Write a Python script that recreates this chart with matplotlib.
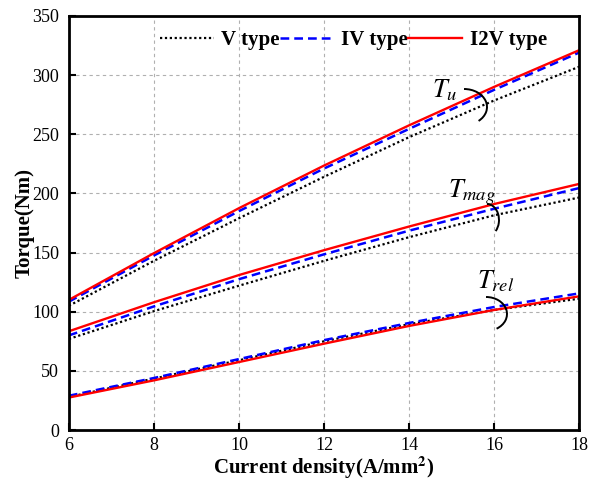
import numpy as np
import matplotlib
matplotlib.use("Agg")
import matplotlib.pyplot as plt
from matplotlib.patches import Arc

plt.rcParams['font.family'] = ['Liberation Serif', 'DejaVu Serif']
plt.rcParams['mathtext.fontset'] = 'stix'

# current density (A/mm^2)
J = [6, 8, 10, 12, 14, 16, 18]

# total torque Tu
tu_v = [105, 143, 179, 214, 247.5, 278.5, 307]
tu_iv = [108.5, 147.5, 185, 221, 254.5, 287.5, 319]
tu_i2v = [110, 149.5, 187.5, 223.5, 257.5, 290, 321]

# magnet torque Tmag
tmag_v = [77, 100.5, 122, 143, 163, 181.5, 196.5]
tmag_iv = [80, 104.5, 127.5, 148.5, 168.5, 187, 204.5]
tmag_i2v = [83.5, 108, 131, 152, 172, 191, 208]

# reluctance torque Trel
trel_v = [28, 43.5, 59, 75, 89.5, 101.5, 111]
trel_iv = [29, 44, 60, 76, 90.5, 104, 115.5]
trel_i2v = [27.5, 42, 57.5, 73, 88, 101.5, 113]

labels = ['V type', 'IV type', 'I2V type']

fig = plt.figure(figsize=(5.99, 4.8), dpi=100)
ax = fig.add_axes([0.115, 0.104, 0.852, 0.863])

styles = [dict(color='black', ls=(0, (1, 1.2)), lw=1.6),
          dict(color='blue', ls=(0, (3.5, 2)), lw=1.8),
          dict(color='red', ls='-', lw=1.7)]

for group in [(tu_v, tu_iv, tu_i2v), (tmag_v, tmag_iv, tmag_i2v), (trel_v, trel_iv, trel_i2v)]:
    for k, y in enumerate(group):
        ax.plot(J, y, label=labels[k] if group[0] is tu_v else None, **styles[k])

ax.set_xlim(6, 18)
ax.set_ylim(0, 350)
ax.set_xticks(range(6, 19, 2))
ax.set_yticks(range(0, 351, 50))
ax.grid(True, ls=(0, (3, 3)), color='#b0b0b0', lw=0.8)
ax.tick_params(direction='in', length=5, width=1.5, labelsize=13, pad=7,
               top=False, right=False)
ax.tick_params(axis='x', pad=5)
for s in ax.spines.values():
    s.set_linewidth(2)

ax.set_xlabel('Current density(A/mm$^\\mathbf{2}$)', fontsize=15, fontweight='bold', labelpad=0.5)
ax.set_ylabel('Torque(Nm)', fontsize=15, fontweight='bold', labelpad=-2)

ax.legend(loc='upper left', bbox_to_anchor=(0.15, 1.0), ncol=3, frameon=False,
          prop=dict(size=15, weight='bold'), handlelength=2.6, handletextpad=0.35,
          columnspacing=0.0, borderaxespad=0.3)

# torque component labels with bracket arcs
def fx(px):
    return px / 599

def fy(py):
    return 1 - py / 480

fig.text(fx(432), fy(97), '$T_{u}$', fontsize=19)
fig.text(fx(448), fy(197), '$T_{mag}$', fontsize=19)
fig.text(fx(477), fy(288), '$T_{rel}$', fontsize=19)

for cx, cy, w, h, t1 in [(464, 107, 46, 36, -50), (487, 220, 24, 32, -58), (486, 314, 42, 34, -60)]:
    fig.add_artist(Arc((fx(cx), fy(cy)), w / 599, h / 480, theta1=t1, theta2=90,
                       transform=fig.transFigure, color='black', lw=1.4))

fig.savefig('out.png', dpi=100)
